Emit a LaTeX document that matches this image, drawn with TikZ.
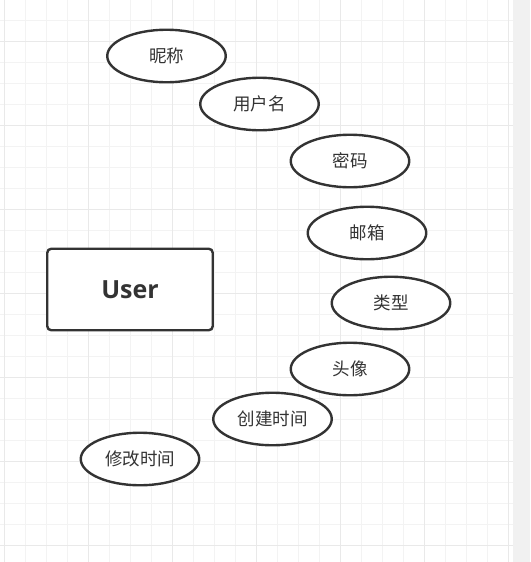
\documentclass[tikz,border=0pt]{standalone}
\usepackage{fontspec}
\setmainfont{Open Sans}
\newfontfamily\cjk{Noto Sans CJK SC}
\usetikzlibrary{shapes.geometric}
\definecolor{ink}{HTML}{333333}
\definecolor{gridminor}{HTML}{F3F3F3}
\definecolor{gridmajor}{HTML}{E9E9E9}
\definecolor{strip}{HTML}{F1F1F1}
\begin{document}
\begin{tikzpicture}[
  x=1pt, y=-1pt,
  attr/.style = {shape=ellipse, draw=ink, line width=2.4pt, fill=white,
                 minimum width=118.5pt, minimum height=52.5pt, inner sep=0pt,
                 text=ink, font=\cjk\fontsize{17.5}{19}\selectfont},
  entity/.style = {shape=rectangle, rounded corners=4pt, draw=ink, line width=2.4pt,
                   fill=white, minimum width=165.5pt, minimum height=81.5pt,
                   text=ink, font=\bfseries\fontsize{25}{28}\selectfont}
]
  \useasboundingbox (0,0) rectangle (530,562);
  \fill[white] (0,0) rectangle (530,562);
  % grid
  \foreach \i in {0,...,24}
    \draw[gridminor, line width=1pt] ({4+21*\i},0) -- ({4+21*\i},562);
  \foreach \i in {0,...,26}
    \draw[gridminor, line width=1pt] (0,{21*\i-0.5}) -- (513,{21*\i-0.5});
  \foreach \i in {0,...,6}
    \draw[gridmajor, line width=1pt] ({4+84*\i},0) -- ({4+84*\i},562);
  \foreach \i in {0,...,6}
    \draw[gridmajor, line width=1pt] (0,{41.5+84*\i}) -- (513,{41.5+84*\i});
  \fill[strip] (513,0) rectangle (530,562);

  \node[entity] (user) at (130,289.5) {User};

  \node[attr] (nickname) at (166.5,56)  {昵称};
  \node[attr] (username) at (259.5,104) {用户名};
  \node[attr] (password) at (350,161)   {密码};
  \node[attr] (email)    at (367,233)   {邮箱};
  \node[attr] (type)     at (391,303)   {类型};
  \node[attr] (avatar)   at (350,369)   {头像};
  \node[attr] (created)  at (272.5,419) {创建时间};
  \node[attr] (modified) at (140,459)   {修改时间};
\end{tikzpicture}
\end{document}
